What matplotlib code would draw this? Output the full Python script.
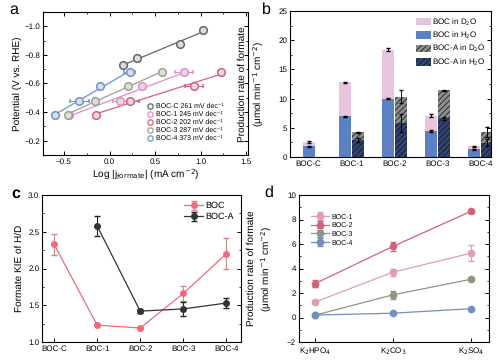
import matplotlib
matplotlib.use('Agg')
import matplotlib.pyplot as plt
from matplotlib.lines import Line2D
import numpy as np

plt.rcParams['font.family'] = ['Liberation Sans', 'DejaVu Sans']
plt.rcParams['hatch.linewidth'] = 0.6
plt.rcParams['text.hinting'] = 'no_hinting'
plt.rcParams['text.hinting_factor'] = 1

# ---- panel a data: Tafel plots
tafel_names = ['BOC-C', 'BOC-1', 'BOC-2', 'BOC-3', 'BOC-4']
tafel_slopes = [261, 245, 202, 287, 373]
tafel_x = [[0.15, 0.30, 0.77, 1.03],
           [-0.45, 0.12, 0.36, 0.82],
           [-0.15, 0.22, 0.93, 1.22],
           [-0.46, -0.16, 0.20, 0.58],
           [-0.60, -0.33, -0.10, 0.22]]
tafel_y = [[-0.73, -0.775, -0.875, -0.975],
           [-0.38, -0.48, -0.58, -0.68],
           [-0.38, -0.48, -0.58, -0.68],
           [-0.38, -0.48, -0.58, -0.68],
           [-0.38, -0.48, -0.58, -0.68]]
tafel_xerr = [[0.0, 0.0, 0.0, 0.0],
              [0.02, 0.08, 0.04, 0.10],
              [0.02, 0.10, 0.10, 0.03],
              [0.02, 0.02, 0.02, 0.02],
              [0.03, 0.10, 0.03, 0.06]]
tafel_colors = ['#666666', '#e58ccb', '#d8607e', '#a0a090', '#6b93cf']

# ---- panel b data: production rates
cats = ['BOC-C', 'BOC-1', 'BOC-2', 'BOC-3', 'BOC-4']
boc_d2o = [2.6, 12.8, 18.4, 7.1, 1.8]
boc_d2o_err = [0.15, 0.05, 0.3, 0.3, 0.1]
boc_h2o = [1.8, 7.0, 10.0, 4.4, 1.3]
boc_h2o_err = [0.1, 0.1, 0.1, 0.15, 0.1]
boca_d2o = [np.nan, 4.2, 10.3, 11.4, 4.3]
boca_d2o_err = [0, 0.1, 1.1, 0.1, 0.9]
boca_h2o = [np.nan, 2.9, 5.8, 6.6, 2.4]
boca_h2o_err = [0, 0.4, 1.6, 0.3, 0.6]

# ---- panel c data: KIE
kie_boc = [2.33, 1.23, 1.19, 1.66, 2.20]
kie_boc_err = [0.14, 0.01, 0.01, 0.10, 0.21]
kie_boca = [np.nan, 2.58, 1.42, 1.45, 1.53]
kie_boca_err = [0, 0.14, 0.03, 0.09, 0.07]

# ---- panel d data: electrolytes
salts = ['K$_2$HPO$_4$', 'K$_2$CO$_3$', 'K$_2$SO$_4$']
d_names = ['BOC-1', 'BOC-2', 'BOC-3', 'BOC-4']
d_vals = [[1.25, 3.7, 5.25],
          [2.75, 5.8, 8.67],
          [0.18, 1.85, 3.12],
          [0.2, 0.35, 0.72]]
d_err = [[0.1, 0.3, 0.65],
         [0.3, 0.35, 0.1],
         [0.05, 0.35, 0.1],
         [0.05, 0.05, 0.05]]
d_colors = ['#e09db3', '#d0647a', '#8f9484', '#6f8fbd']

W, H = 503, 361
fig = plt.figure(figsize=(W / 100, H / 100), dpi=100)
LAB = 7.2   # axis label size
TCK = 6.0   # tick label size


def rect(l, t, r, b):
    return [l / W, 1 - b / H, (r - l) / W, (b - t) / H]


def style(ax):
    ax.tick_params(which='both', direction='in', top=True, right=True,
                   labelsize=TCK, pad=2)
    ax.tick_params(which='major', length=2.8, width=0.7)
    ax.tick_params(which='minor', length=1.5, width=0.6)
    for s in ax.spines.values():
        s.set_linewidth(0.8)


def letter(px, py, s, bold=False):
    fig.text(px / W, 1 - py / H, s, fontsize=11.5, va='top',
             fontweight='bold' if bold else 'normal')


# ---------------- a
ax = fig.add_axes(rect(43, 12, 248, 155))
handles = []
for i in range(5):
    xs, ys = np.array(tafel_x[i]), np.array(tafel_y[i])
    p = np.polyfit(xs, ys, 1)
    xx = np.array([xs.min(), xs.max()])
    ax.plot(xx, np.polyval(p, xx), color=tafel_colors[i], lw=0.9)
    ax.errorbar(xs, ys, xerr=tafel_xerr[i], fmt='o', ms=5.5, mfc='#dddddd',
                mec=tafel_colors[i], mew=1.1, ecolor=tafel_colors[i],
                elinewidth=0.7, capsize=1.5)
    handles.append(Line2D([], [], ls='none', marker='o', ms=3.8, mfc='none',
                          mec=tafel_colors[i], mew=0.9,
                          label='%s %d mV dec\u207b\u00b9' % (tafel_names[i], tafel_slopes[i])))
ax.set_xlim(-0.73, 1.52)
ax.set_ylim(-0.1, -1.1)
ax.set_xticks([-0.5, 0.0, 0.5, 1.0, 1.5])
ax.set_xticks(np.arange(-0.5, 1.5, 0.25), minor=True)
ax.set_yticks([-1.0, -0.8, -0.6, -0.4, -0.2])
ax.set_yticks(np.arange(-1.1, -0.05, 0.1), minor=True)
style(ax)
ax.set_ylabel('Potential (V vs. RHE)', fontsize=LAB, labelpad=2)
ax.set_xlabel('Log |j$_{\\mathrm{formate}}$| (mA cm$^{-2}$)', fontsize=LAB, labelpad=1)
ax.legend(handles=handles, loc='lower right', fontsize=5.1, frameon=False,
          handletextpad=0.2, handlelength=1.2, labelspacing=0.2,
          borderpad=0, bbox_to_anchor=(0.9, 0.07))
letter(9, 2, 'a')

# ---------------- b
ax = fig.add_axes(rect(290, 11, 491, 157))
x = np.arange(len(cats))
w = 0.28
xb = x - 0.15
xb[0] = x[0] + 0.03
ax.bar(xb, boc_d2o, w, color='#e7c5df', label='BOC in D$_2$O', zorder=1)
ax.errorbar(xb, boc_d2o, yerr=boc_d2o_err, fmt='none', ecolor='k', elinewidth=0.7,
            capsize=1.5, zorder=3)
ax.bar(xb, boc_h2o, w, color='#5c80c4', label='BOC in H$_2$O', zorder=2)
ax.errorbar(xb, boc_h2o, yerr=boc_h2o_err, fmt='none', ecolor='k', elinewidth=0.7,
            capsize=1.5, zorder=3)
ax.bar(x + 0.15, boca_d2o, w, color='#8d8d8d', edgecolor='#222222', lw=0,
       hatch='//////', label='BOC-A in D$_2$O', zorder=1)
ax.errorbar(x + 0.15, boca_d2o, yerr=boca_d2o_err, fmt='none', ecolor='k',
            elinewidth=0.7, capsize=1.5, zorder=3)
ax.bar(x + 0.15, boca_h2o, w, color='#34466e', edgecolor='#0e1530', lw=0,
       hatch='//////', label='BOC-A in H$_2$O', zorder=2)
ax.errorbar(x + 0.15, boca_h2o, yerr=boca_h2o_err, fmt='none', ecolor='k',
            elinewidth=0.7, capsize=1.5, zorder=3)
ax.set_xlim(-0.42, 4.24)
ax.set_ylim(0, 25)
ax.set_xticks(x)
ax.set_xticklabels(cats)
ax.set_yticks(np.arange(0, 26, 5))
ax.set_yticks(np.arange(0, 25.1, 2.5), minor=True)
style(ax)
ax.tick_params(axis='x', which='both', top=False, bottom=False)
ax.set_ylabel('Production rate of formate\n(μmol min$^{-1}$ cm$^{-2}$)',
              fontsize=LAB, linespacing=1.3)
ax.yaxis.set_label_coords(-0.12, 0.5)
ax.legend(loc='upper right', fontsize=5.6, frameon=False, handlelength=1.9,
          handleheight=1.1, handletextpad=0.2, labelspacing=0.3, borderaxespad=0.3)
letter(262, 2, 'b')

# ---------------- c
ax = fig.add_axes(rect(42, 195, 241, 342))
ax.errorbar(x, kie_boc, yerr=kie_boc_err, fmt='-o', color='#ef6b7d', ms=4,
            lw=0.9, ecolor='#c98a84', elinewidth=0.8, capsize=2, label='BOC')
ax.errorbar(x, kie_boca, yerr=kie_boca_err, fmt='-o', color='#333333', ms=4,
            lw=0.9, ecolor='#222222', elinewidth=0.8, capsize=2, label='BOC-A')
ax.set_xlim(-0.28, 4.34)
ax.set_ylim(1.0, 3.0)
ax.set_xticks(x)
ax.set_xticklabels(cats)
ax.set_yticks(np.arange(1.0, 3.01, 0.5))
ax.set_yticks(np.arange(1.0, 3.01, 0.25), minor=True)
style(ax)
ax.tick_params(axis='x', which='both', top=False)
ax.set_ylabel('Formate KIE of H/D', fontsize=LAB, labelpad=3)
ax.legend(loc='upper right', fontsize=6.2, frameon=False, handlelength=2.2,
          handletextpad=0.3, labelspacing=0.3, borderaxespad=0.4)
letter(11, 186, 'c', bold=True)

# ---------------- d
ax = fig.add_axes(rect(299, 195, 489, 342))
xd = np.arange(len(salts))
for i in range(4):
    ax.errorbar(xd, d_vals[i], yerr=d_err[i], fmt='-o', color=d_colors[i], ms=4.5,
                lw=0.9, elinewidth=0.8, capsize=2, label=d_names[i])
ax.set_xlim(-0.2, 2.23)
ax.set_ylim(-2, 10)
ax.set_xticks(xd)
ax.set_xticklabels(salts)
ax.set_yticks(np.arange(-2, 11, 2))
ax.set_yticks(np.arange(-2, 10.1, 1), minor=True)
style(ax)
ax.tick_params(axis='x', which='both', top=False)
ax.set_ylabel('Production rate of formate\n(μmol min$^{-1}$ cm$^{-2}$)',
              fontsize=LAB, linespacing=1.3)
ax.yaxis.set_label_coords(-0.13, 0.5)
ax.legend(loc='upper left', bbox_to_anchor=(0.03, 0.92), fontsize=5.4, frameon=False,
          handlelength=2.4, handletextpad=0.3, labelspacing=0.25)
letter(264, 185, 'd')

fig.savefig('out.png', dpi=100)
